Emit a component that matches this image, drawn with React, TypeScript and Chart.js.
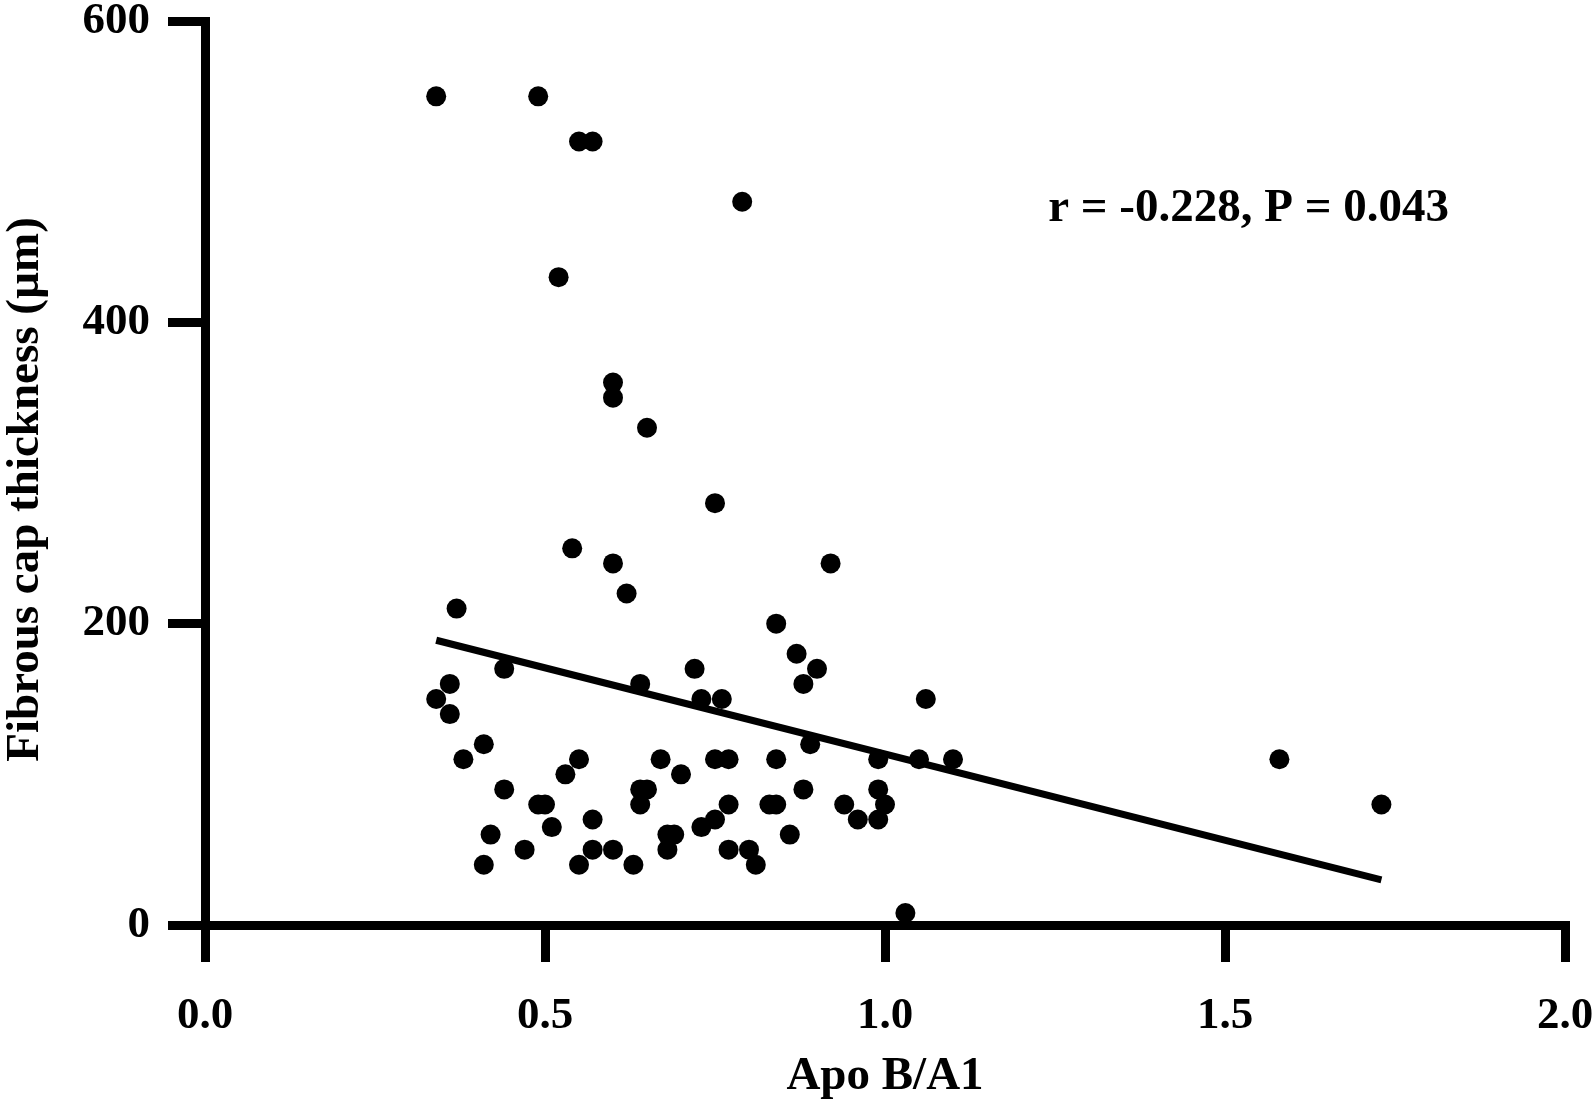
import { useEffect, useRef } from "react";
import { Chart, registerables } from "chart.js";

Chart.register(...registerables);

const FONT = '"Liberation Serif", "Times New Roman", serif';

// Apo B/A1 ratio (x) and fibrous cap thickness in µm (y)
const apoBA1 = [
  0.34, 0.49, 0.55, 0.57, 0.79, 0.52, 0.60, 0.60, 0.65, 0.75,
  0.54, 0.60, 0.92, 0.62, 0.37, 0.84, 0.34, 0.36, 0.36, 0.44,
  0.38, 0.41, 0.42, 0.41, 0.44, 0.47, 0.49, 0.50, 0.51, 0.53,
  0.55, 0.55, 0.57, 0.57, 0.60, 0.63, 0.64, 0.64, 0.65, 0.64,
  0.67, 0.68, 0.68, 0.69, 0.70, 0.72, 0.73, 0.73, 0.75, 0.75,
  0.76, 0.77, 0.77, 0.77, 0.80, 0.81, 0.83, 0.84, 0.84, 0.86,
  0.87, 0.88, 0.88, 0.89, 0.90, 0.94, 0.96, 0.99, 0.99, 0.99,
  1.00, 1.03, 1.05, 1.06, 1.10, 1.58, 1.73,
];
const capThickness = [
  550, 550, 520, 520, 480, 430, 360, 350, 330, 280,
  250, 240, 240, 220, 210, 200, 150, 160, 140, 170,
  110, 120, 60, 40, 90, 50, 80, 80, 65, 100,
  110, 40, 70, 50, 50, 40, 160, 90, 90, 80,
  110, 60, 50, 60, 100, 170, 150, 65, 70, 110,
  150, 110, 80, 50, 50, 40, 80, 110, 80, 60,
  180, 160, 90, 120, 170, 80, 70, 110, 90, 70,
  80, 8, 110, 150, 110, 110, 80,
];

// Regression line end points
const fitX = [0.34, 1.73];
const fitY = [189, 30];

// Axes
const xMin = 0;
const xMax = 2;
const xStep = 0.5;
const yMin = 0;
const yMax = 600;
const yStep = 200;
const xTitle = "Apo B/A1";
const yTitle = "Fibrous cap thickness (µm)";

// Annotation
const annotationText = "r = -0.228, P = 0.043";
const annotationX = 1.24;
const annotationY = 475;

const annotationPlugin = {
  id: "corrAnnotation",
  afterDatasetsDraw(chart: any) {
    const { ctx, scales } = chart;
    ctx.save();
    ctx.font = `bold 47px ${FONT}`;
    ctx.fillStyle = "#000";
    ctx.textAlign = "left";
    ctx.textBaseline = "middle";
    ctx.fillText(
      annotationText,
      scales.x.getPixelForValue(annotationX),
      scales.y.getPixelForValue(annotationY)
    );
    ctx.restore();
  },
};

export default function App() {
  const ref = useRef<HTMLCanvasElement>(null);

  useEffect(() => {
    if (!ref.current) return;
    const points = apoBA1.map((x, i) => ({ x, y: capThickness[i] }));
    const fit = fitX.map((x, i) => ({ x, y: fitY[i] }));

    const chart = new Chart(ref.current, {
      type: "scatter",
      data: {
        datasets: [
          {
            type: "line",
            label: "fit",
            data: fit,
            borderColor: "#000",
            borderWidth: 7,
            pointRadius: 0,
            borderCapStyle: "butt",
            fill: false,
          } as any,
          {
            label: "patients",
            data: points,
            backgroundColor: "#000",
            borderWidth: 0,
            pointRadius: 10,
            pointHoverRadius: 10,
          },
        ],
      },
      options: {
        animation: false,
        responsive: false,
        devicePixelRatio: 1,
        layout: { padding: { left: 0, top: 21, right: 28, bottom: 0 } },
        plugins: {
          legend: { display: false },
          tooltip: { enabled: false },
        },
        scales: {
          x: {
            type: "linear",
            min: xMin,
            max: xMax,
            ticks: {
              stepSize: xStep,
              color: "#000",
              padding: 27,
              font: { family: FONT, size: 45, weight: "bold", lineHeight: 1.2 },
              callback: (v: any) => Number(v).toFixed(1),
            },
            grid: {
              display: true,
              drawOnChartArea: false,
              drawTicks: true,
              tickLength: 37,
              lineWidth: 9,
              color: "#000",
            },
            border: { display: true, width: 9, color: "#000" },
            title: {
              display: true,
              text: xTitle,
              color: "#000",
              font: { family: FONT, size: 47, weight: "bold", lineHeight: 1 },
              padding: { top: 0, bottom: 7.5 },
            },
            afterFit: (s: any) => {
              s.height = 183;
              s.paddingLeft = 0;
              s.paddingRight = 0;
            },
          },
          y: {
            type: "linear",
            min: yMin,
            max: yMax,
            ticks: {
              stepSize: yStep,
              color: "#000",
              padding: 18,
              font: { family: FONT, size: 45, weight: "bold", lineHeight: 1.2 },
            },
            grid: {
              display: true,
              drawOnChartArea: false,
              drawTicks: true,
              tickLength: 37,
              lineWidth: 9,
              color: "#000",
            },
            border: { display: true, width: 9, color: "#000" },
            title: {
              display: true,
              // trailing spaces nudge the centred title slightly downward, as in the original
              text: yTitle + "  \u2009",
              color: "#000",
              font: { family: FONT, size: 47, weight: "bold", lineHeight: 1 },
              padding: { top: 2.5, bottom: 0 },
            },
            afterFit: (s: any) => {
              s.width = 205;
              s.paddingTop = 0;
              s.paddingBottom = 0;
            },
          },
        },
      },
      plugins: [annotationPlugin],
    });
    return () => chart.destroy();
  }, []);

  return (
    <div style={{ position: "absolute", left: 0, top: 0, width: 1593, height: 1108, background: "#fff" }}>
      <canvas ref={ref} width={1593} height={1108} style={{ display: "block" }} />
    </div>
  );
}
